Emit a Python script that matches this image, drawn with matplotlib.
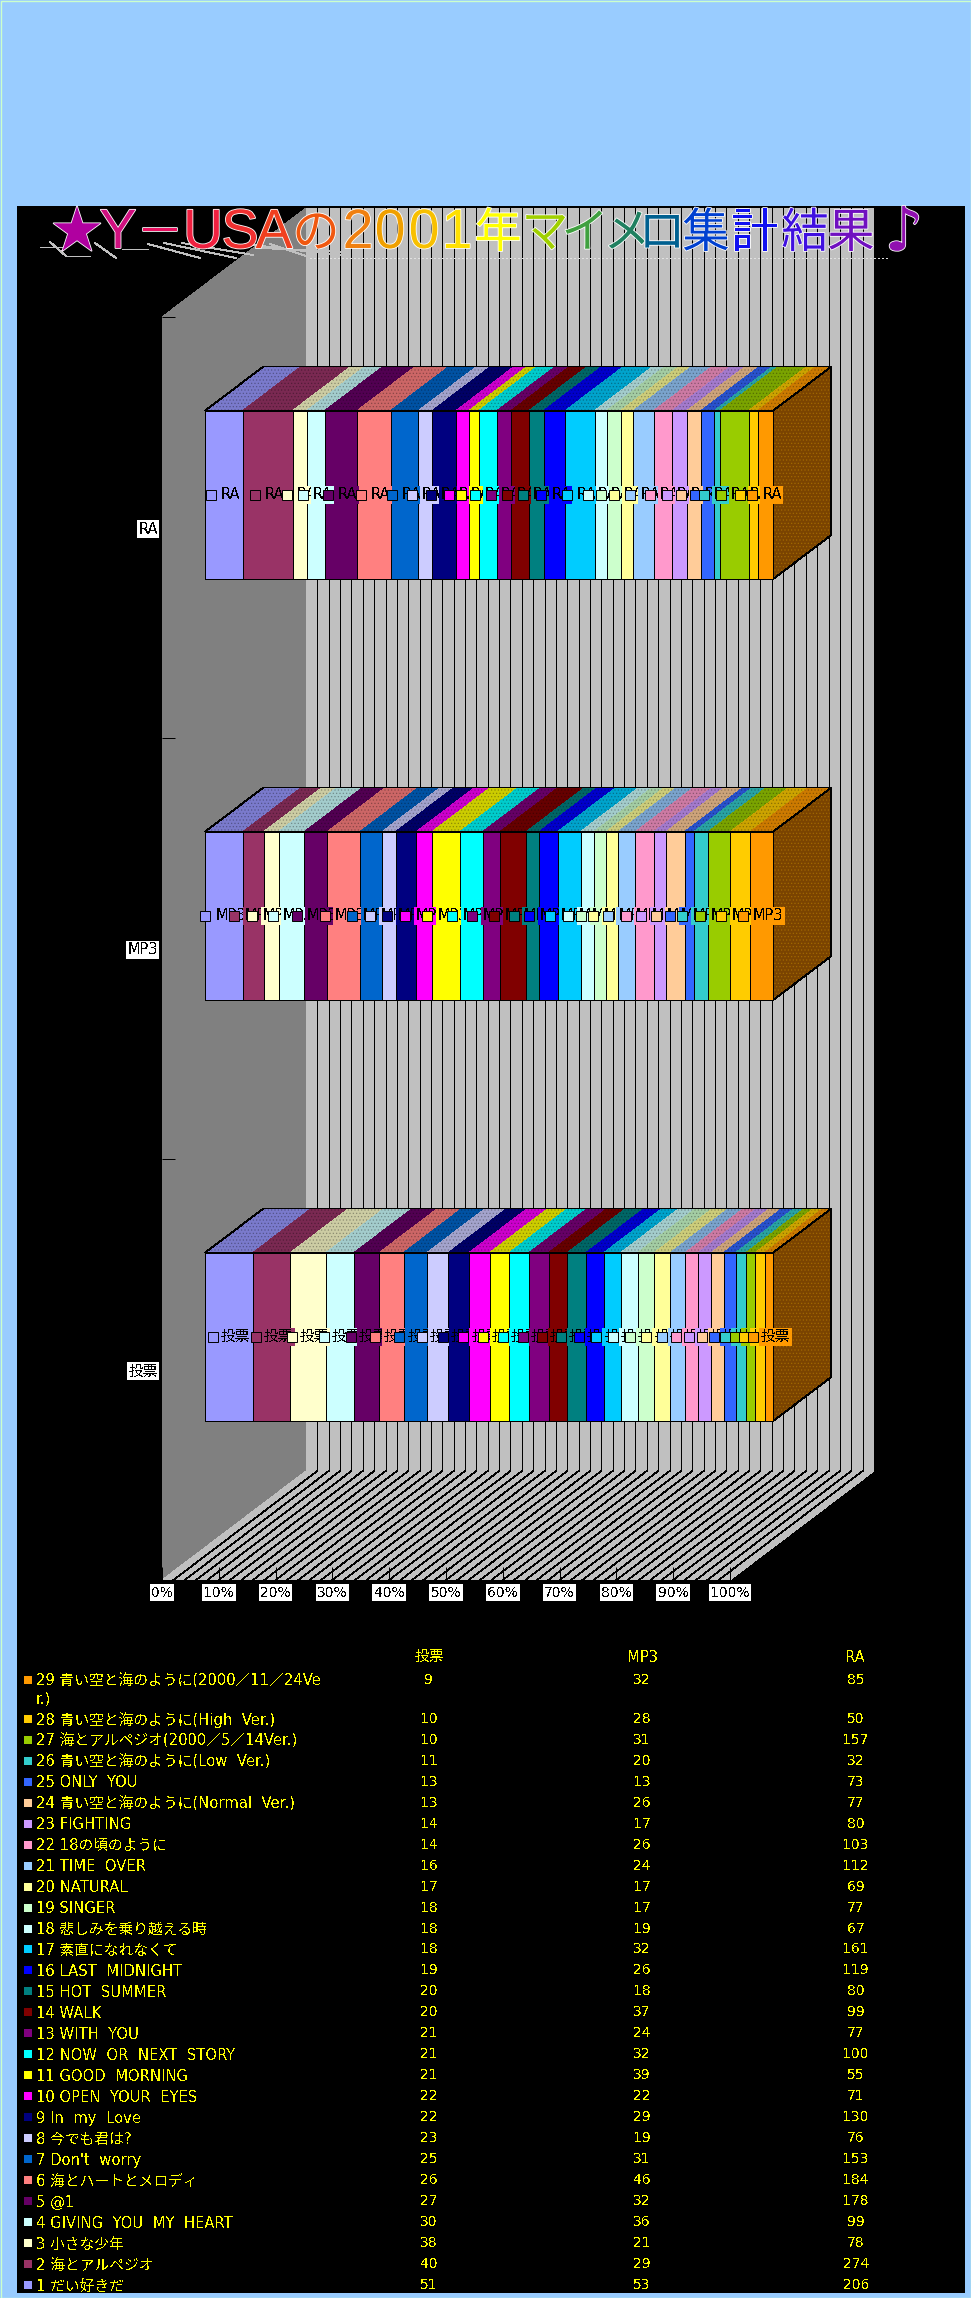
import matplotlib
matplotlib.use('Agg')
import matplotlib.pyplot as plt
from matplotlib.patches import Polygon, Rectangle
import matplotlib.patheffects as pe
import numpy as np

plt.rcParams['font.family'] = ['DejaVu Sans', 'Noto Sans CJK JP']
plt.rcParams['text.antialiased'] = False
plt.rcParams['hatch.linewidth'] = 0.5

W, H = 971, 2298

songs = ['だい好きだ', '海とアルペジオ', '小さな少年', 'GIVING  YOU  MY  HEART', '@1',
         '海とハートとメロディ', "Don't  worry", '今でも君は?', 'In  my  Love',
         'OPEN  YOUR  EYES', 'GOOD  MORNING', 'NOW  OR  NEXT  STORY', 'WITH  YOU', 'WALK',
         'HOT  SUMMER', 'LAST  MIDNIGHT', '素直になれなくて', '悲しみを乗り越える時', 'SINGER',
         'NATURAL', 'TIME  OVER', '18の頃のように', 'FIGHTING', '青い空と海のように(Normal  Ver.)',
         'ONLY  YOU', '青い空と海のように(Low  Ver.)', '海とアルペジオ(2000／5／14Ver.)',
         '青い空と海のように(High  Ver.)', '青い空と海のように(2000／11／24Ve\nr.)']
votes = [51, 40, 38, 30, 27, 26, 25, 23, 22, 22, 21, 21, 21, 20, 20, 19, 18, 18, 18, 17, 16, 14, 14, 13, 13, 11, 10, 10, 9]
mp3 = [53, 29, 21, 36, 32, 46, 31, 19, 29, 22, 39, 32, 24, 37, 18, 26, 32, 19, 17, 17, 24, 26, 17, 26, 13, 20, 31, 28, 32]
ra = [206, 274, 78, 99, 178, 184, 153, 76, 130, 71, 55, 100, 77, 99, 80, 119, 161, 67, 77, 69, 112, 103, 80, 77, 73, 32, 157, 50, 85]
colors = ['#9999FF', '#993366', '#FFFFCC', '#CCFFFF', '#660066', '#FF8080', '#0066CC', '#CCCCFF',
          '#000080', '#FF00FF', '#FFFF00', '#00FFFF', '#800080', '#800000', '#008080', '#0000FF',
          '#00CCFF', '#CCFFFF', '#CCFFCC', '#FFFF99', '#99CCFF', '#FF99CC', '#CC99FF', '#FFCC99',
          '#3366FF', '#33CCCC', '#99CC00', '#FFCC00', '#FF9900']
series_names = ['投票', 'MP3', 'RA']
series_values = [votes, mp3, ra]
xtick_labels = ['0%', '10%', '20%', '30%', '40%', '50%', '60%', '70%', '80%', '90%', '100%']

title_chars = list('★Y－USAの2001年マイメロ集計結果♪')
title_x = [77, 118, 160, 203, 240, 274, 316, 358, 390, 424, 457, 498, 545, 585, 627, 662, 706, 755, 805, 851, 904]
title_colors = ['#B000A0', '#D01080', '#E81060', '#F02040', '#F03030', '#F04020', '#F05810', '#F08010',
                '#F0A000', '#F8C000', '#FFE000', '#FFFF00', '#A0D000', '#40A040', '#208060', '#006090',
                '#0040D0', '#1010F0', '#4010E0', '#7010C0', '#9010B0']


def darker(c, f):
    r = matplotlib.colors.to_rgb(c)
    return (r[0] * f, r[1] * f, r[2] * f)


fig = plt.figure(figsize=(W / 100, H / 100), dpi=100, facecolor='#99CCFF')

# page background, panel, title and table in pixel coords
bg = fig.add_axes([0, 0, 1, 1], zorder=0)
bg.set_xlim(0, W)
bg.set_ylim(H, 0)
bg.axis('off')
bg.add_patch(Rectangle((0.5, 0.5), W - 1, H - 1, fc='none', ec='#CCFFCC', lw=1))
bg.add_patch(Rectangle((17, 206), 948, 2087, fc='black', ec='none'))

# chart plane: x = share, y = category
X0, X1, YT, YB = 162, 730, 317, 1580
ax = fig.add_axes([X0 / W, 1 - YB / H, (X1 - X0) / W, (YB - YT) / H], zorder=1)
ax.set_xlim(0, 1)
ax.set_ylim(-0.5, 2.5)
ax.patch.set_visible(False)
for s in ax.spines.values():
    s.set_visible(False)

# depth vector of the whole box, in data units
DX = 144 / (X1 - X0)
DY = 109 / 421.0
y_lo, y_hi = -0.5, 2.5

ax.add_patch(Polygon([(0, y_lo), (DX, y_lo + DY), (DX, y_hi + DY), (0, y_hi)], fc='#808080', ec='none', clip_on=False, zorder=1, antialiased=False))
ax.add_patch(Polygon([(DX, y_lo + DY), (1 + DX, y_lo + DY), (1 + DX, y_hi + DY), (DX, y_hi + DY)], fc='#C0C0C0', ec='none', clip_on=False, zorder=1, antialiased=False))
ax.add_patch(Polygon([(0, y_lo), (1, y_lo), (1 + DX, y_lo + DY), (DX, y_lo + DY)], fc='#C0C0C0', ec='none', clip_on=False, zorder=1, antialiased=False))
for g in np.arange(1, 50) / 50.0:
    ax.plot([g + DX, g + DX], [y_lo + DY, y_hi + DY], color='black', lw=0.6, clip_on=False, zorder=2, antialiased=False)
    ax.plot([g, g + DX], [y_lo, y_lo + DY], color='black', lw=0.45, clip_on=False, zorder=2, antialiased=False)

# bars sit at this depth
d0, d1 = 0.3, 0.704
bar_h = 0.4
fs_label = 10.5
key_px = 9
text_px = {'投票': 28, 'MP3': 34, 'RA': 22}
for k, (name, vals) in enumerate(zip(series_names, series_values)):
    shares = np.array(vals, dtype=float) / sum(vals)
    lefts = np.concatenate([[0], np.cumsum(shares)[:-1]])
    xoff = d0 * DX
    yc = k + d0 * DY
    top = yc + bar_h / 2
    bot = yc - bar_h / 2
    ddx = (d1 - d0) * DX
    ddy = (d1 - d0) * DY
    # top faces
    for i in range(len(vals)):
        l = lefts[i] + xoff
        r = l + shares[i]
        ax.add_patch(Polygon([(l, top), (r, top), (r + ddx, top + ddy), (l + ddx, top + ddy)],
                             fc=darker(colors[i], 0.8), ec=darker(colors[i], 0.55), lw=0, hatch='.....',
                             clip_on=False, zorder=3, antialiased=False))
    ax.add_patch(Polygon([(xoff, top), (xoff + 1, top), (xoff + 1 + ddx, top + ddy), (xoff + ddx, top + ddy)],
                         fc='none', ec='black', lw=0.6, clip_on=False, zorder=3.5, antialiased=False))
    # side face
    ax.add_patch(Polygon([(xoff + 1, top), (xoff + 1 + ddx, top + ddy), (xoff + 1 + ddx, bot + ddy), (xoff + 1, bot)],
                         fc='#7A4300', ec='#A06800', lw=0, hatch='.....', clip_on=False, zorder=3, antialiased=False))
    ax.add_patch(Polygon([(xoff + 1, top), (xoff + 1 + ddx, top + ddy), (xoff + 1 + ddx, bot + ddy), (xoff + 1, bot)],
                         fc='none', ec='black', lw=0.6, clip_on=False, zorder=3.5, antialiased=False))
    ax.barh(yc, shares, left=lefts + xoff, height=bar_h, color=colors, edgecolor='black', linewidth=0.6, zorder=4,
            clip_on=False, antialiased=False)
    # data labels, later ones cover earlier ones
    for i in range(len(vals)):
        c = lefts[i] + xoff + shares[i] / 2
        tw = text_px[name]
        total = key_px + 4 + tw
        sx = 1.0 / (X1 - X0)
        tx = c + (total / 2 - tw / 2) * sx
        kx = c + (-total / 2 + key_px / 2) * sx
        ax.text(tx, yc, name, fontsize=fs_label, color='black', ha='center', va='center', zorder=10 + 2 * i,
                bbox=dict(boxstyle='square,pad=0.12', fc=colors[i], ec='none'))
        ax.plot([kx], [yc], marker='s', ms=6.5, mfc=colors[i], mec='black', mew=0.7, zorder=11 + 2 * i, clip_on=False)

ax.set_xticks(np.arange(0, 11) / 10.0)
ax.set_xticklabels(xtick_labels, fontsize=10, color='black')
ax.tick_params(axis='x', direction='in', length=9.4, width=0.72, color='black', pad=4)
ax.set_yticks([0, 1, 2])
ax.set_yticklabels(series_names, fontsize=10.5, color='black')
ax.set_yticks([-0.5, 0.5, 1.5, 2.5], minor=True)
ax.tick_params(axis='y', which='major', length=0, pad=3)
ax.tick_params(axis='y', which='minor', direction='in', length=9.4, width=0.72, color='black')
for t in ax.get_xticklabels() + ax.get_yticklabels():
    t.set_bbox(dict(boxstyle='square,pad=0.1', fc='white', ec='none'))
    t.set_zorder(6)

# title on top of everything
tx_ax = fig.add_axes([0, 0, 1, 1], zorder=3)
tx_ax.set_xlim(0, W)
tx_ax.set_ylim(H, 0)
tx_ax.axis('off')
streaks = [(40, 247, 66, 247), (50, 242, 66, 256), (66, 256, 90, 256), (95, 243, 116, 258),
           (122, 249, 148, 249), (148, 244, 200, 258), (164, 243, 236, 258), (182, 243, 253, 255),
           (253, 245, 340, 255), (262, 248, 340, 252), (270, 244, 306, 256)]
for x1, y1, x2, y2 in streaks:
    tx_ax.plot([x1, x2], [y1, y2], color='#C0C0C0', lw=0.7, antialiased=False)
tx_ax.plot([310, 890], [258, 258], color='#E0E0E0', lw=0.7, ls=(0, (2, 3)), antialiased=False)
for ch, x, c in zip(title_chars, title_x, title_colors):
    if ch in 'YUSA2001':
        fs, fam = 40, ['Liberation Sans']
    elif ch in '★♪':
        fs, fam = 44, ['DejaVu Sans']
    else:
        fs, fam = 34, ['Noto Sans CJK JP']
    tx_ax.text(x, 234, ch, fontsize=fs, family=fam, color=c, ha='center', va='center', antialiased=True,
               path_effects=[pe.withStroke(linewidth=1.2, foreground='white')])

# table
fs_table = 10.6
fs_num = 10
tx_ax.text(429, 1656, '投票', fontsize=fs_table, color='#FFFF00', ha='center', va='center')
tx_ax.text(643, 1657, 'MP3', fontsize=fs_table, color='#FFFF00', ha='center', va='center')
tx_ax.text(855, 1657, 'RA', fontsize=fs_table, color='#FFFF00', ha='center', va='center')
n = len(songs)
for i in range(n - 1, -1, -1):
    rank = i + 1
    y = 2285 - (rank - 1) * 20.97 if rank < 29 else 1680
    tx_ax.add_patch(Rectangle((24, y - 4), 8, 8, fc=colors[i], ec='none'))
    lines = (str(rank) + ' ' + songs[i]).split('\n')
    tx_ax.text(36, y + 1, lines[0], fontsize=fs_table, color='#FFFF00', ha='left', va='center')
    if len(lines) > 1:
        tx_ax.text(36, y + 19, lines[1], fontsize=fs_table, color='#FFFF00', ha='left', va='center')
    tx_ax.text(429, y, str(votes[i]), fontsize=fs_num, color='#FFFF00', ha='center', va='center')
    tx_ax.text(642, y, str(mp3[i]), fontsize=fs_num, color='#FFFF00', ha='center', va='center')
    tx_ax.text(856, y, str(ra[i]), fontsize=fs_num, color='#FFFF00', ha='center', va='center')

fig.savefig('out.png', dpi=100, facecolor=fig.get_facecolor())
